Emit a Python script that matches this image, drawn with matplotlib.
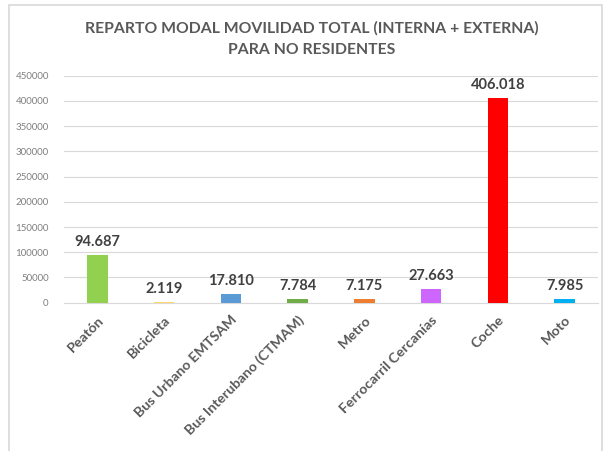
import matplotlib
matplotlib.use("Agg")
import matplotlib.pyplot as plt
from matplotlib.patches import Rectangle

categories = ["Peatón", "Bicicleta", "Bus Urbano EMTSAM", "Bus Interubano (CTMAM)",
              "Metro", "Ferrocarril Cercanías", "Coche", "Moto"]
values = [94687, 2119, 17810, 7784, 7175, 27663, 406018, 7985]
labels = ["94.687", "2.119", "17.810", "7.784", "7.175", "27.663", "406.018", "7.985"]
colors = ["#92D050", "#FFD966", "#5B9BD5", "#70AD47", "#ED7D31", "#CC66FF", "#FF0000", "#00B0F0"]
yticks = [0, 50000, 100000, 150000, 200000, 250000, 300000, 350000, 400000, 450000]

plt.rcParams['font.family'] = ['Lato', 'DejaVu Sans']

fig = plt.figure(figsize=(6.04, 4.51), dpi=100)
ax = fig.add_axes([0.106, 0.329, 0.884, 0.503])

x = list(range(len(categories)))
ax.bar(x, values, width=0.31, color=colors, zorder=3)
for xi, v, lab in zip(x, values, labels):
    ax.annotate(lab, (xi, v), xytext=(0, 4), textcoords="offset points",
                ha="center", va="bottom", fontsize=10.5, fontweight="bold",
                color="#404040", zorder=4)

ax.set_xlim(-0.5, len(categories) - 0.5)
ax.set_ylim(0, 450000)
ax.set_yticks(yticks)
ax.set_yticklabels([str(t) for t in yticks], fontsize=7, color="#7F7F7F")
ax.set_xticks(x)
ax.set_xticklabels(categories, rotation=45, ha="right", rotation_mode="anchor",
                   fontsize=10.2, fontweight="bold", color="#595959")
ax.tick_params(axis="both", length=0)
ax.tick_params(axis="y", pad=11)
ax.tick_params(axis="x", pad=8)
ax.grid(axis="y", color="#D9D9D9", linewidth=0.8, zorder=0)
for s in ["top", "right", "left"]:
    ax.spines[s].set_visible(False)
ax.spines["bottom"].set_color("#D9D9D9")
ax.spines["bottom"].set_linewidth(0.8)

fig.text(0.516, 0.938, "REPARTO MODAL MOVILIDAD TOTAL (INTERNA + EXTERNA)",
         ha="center", va="center", fontsize=11.3, fontweight="bold", color="#595959")
fig.text(0.516, 0.889, "PARA NO RESIDENTES",
         ha="center", va="center", fontsize=11.3, fontweight="bold", color="#595959")

W, H = 604, 451
border = Rectangle((8.5 / W, -0.05), (602 - 8.5) / W, (1.05 - 5 / H),
                   transform=fig.transFigure, fill=False, edgecolor="#D9D9D9",
                   linewidth=1.2)
fig.patches.append(border)

fig.savefig("out.png", dpi=100)
